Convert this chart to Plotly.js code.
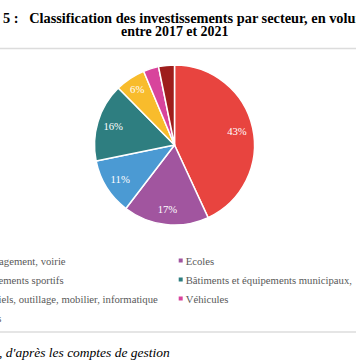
<!DOCTYPE html>
<html><head><meta charset="utf-8">
<script src="https://cdn.plot.ly/plotly-3.0.1.min.js"></script>
<style>
html,body{margin:0;padding:0;background:#fff;}
#chart{width:356px;height:364px;}
g.legendpoints{transform:translate(15px,0px);}
</style></head><body><div id="chart"></div>
<script>
// ---- data ----
const categories = [
  "Aménagement, voirie",
  "Ecoles",
  "Équipements sportifs",
  "Bâtiments et équipements municipaux,",
  "Matériels, outillage, mobilier, informatique",
  "Véhicules",
  "Autres"
];
const shares = [43.1, 17.3, 11.4, 15.8, 6.1, 3.1, 3.2];
const colors = ["#E8443F", "#A1559F", "#4B9AD3", "#2E7E80", "#F8BC2C", "#D8449C", "#9E1E1C"];
const legendColumn = ["legend", "legend2", "legend", "legend2", "legend", "legend2", "legend"];
const titleLine1 = "N° 5 :\u00a0\u00a0\u00a0Classification des investissements par secteur, en volume";
const titleLine2 = "entre 2017 et 2021";
const sourceText = ", d'après les comptes de gestion";

// ---- chart ----
const W = 356, H = 364;
const serif = "Liberation Serif, Times New Roman, serif";
const px = v => v / W;
const py = v => 1 - v / H;
const pieDomain = {x: [px(94.5), px(254.5)], y: [py(225), py(65)]};

const pie = {
  type: "pie",
  values: shares,
  labels: categories,
  sort: false,
  direction: "clockwise",
  rotation: 0,
  marker: {colors: colors, line: {color: "#ffffff", width: 1.5}},
  textinfo: "none",
  showlegend: false,
  hoverinfo: "none",
  domain: pieDomain
};

// transparent ring carrying the percentage labels near the outer edge
const pieLabels = {
  type: "pie",
  values: shares,
  labels: categories,
  sort: false,
  direction: "clockwise",
  rotation: 0,
  hole: 0.6,
  marker: {colors: colors.map(() => "rgba(0,0,0,0)"), line: {width: 0}},
  texttemplate: shares.map(v => v >= 5 ? "%{percent:.0%}" : ""),
  textposition: "inside",
  insidetextorientation: "horizontal",
  textfont: {family: serif, size: 10.7, color: "#ffffff"},
  showlegend: false,
  hoverinfo: "none",
  domain: pieDomain
};

const legendTraces = categories.map((c, i) => ({
  type: "scatter",
  mode: "markers",
  x: [null], y: [null],
  name: c,
  legend: legendColumn[i],
  marker: {symbol: "square", size: 4, color: colors[i]},
  hoverinfo: "skip",
  showlegend: true
}));

const legendBase = {
  orientation: "v",
  xanchor: "left",
  yanchor: "top",
  y: py(246),
  bgcolor: "rgba(0,0,0,0)",
  borderwidth: 0,
  font: {family: serif, size: 10.7, color: "#595959"}
};

const layout = {
  width: W, height: H,
  margin: {l: 0, r: 0, t: 0, b: 0, autoexpand: false},
  paper_bgcolor: "#ffffff",
  plot_bgcolor: "#ffffff",
  xaxis: {visible: false, range: [0, 1]},
  yaxis: {visible: false, range: [0, 1]},
  showlegend: true,
  legend: Object.assign({}, legendBase, {x: px(-67)}),
  legend2: Object.assign({}, legendBase, {x: px(145.7)}),
  title: {
    text: titleLine1,
    font: {family: serif, size: 14.35, color: "#000000", weight: 700},
    x: px(178.5), xanchor: "center", xref: "container",
    y: py(17.5), yanchor: "middle", yref: "container"
  },
  shapes: [
    {type: "line", xref: "paper", yref: "paper", x0: 0, x1: 1, y0: py(48.5), y1: py(48.5),
     line: {color: "#dcdcdc", width: 1.5}},
    {type: "line", xref: "paper", yref: "paper", x0: 0, x1: 1, y0: py(332), y1: py(332),
     line: {color: "#dcdcdc", width: 1.5}}
  ],
  annotations: [
    {text: titleLine2, xref: "paper", yref: "paper", x: px(174.7), y: py(31.8),
     xanchor: "center", yanchor: "middle", showarrow: false,
     font: {family: serif, size: 13.9, color: "#000000", weight: 700}},
    {text: sourceText, xref: "paper", yref: "paper", x: px(172), y: py(352.5),
     xanchor: "right", yanchor: "middle", showarrow: false,
     font: {family: serif, size: 13.5, color: "#000000", style: "italic"}}
  ]
};

Plotly.newPlot("chart", [pie, pieLabels].concat(legendTraces), layout, {displayModeBar: false, staticPlot: true});
</script></body></html>
